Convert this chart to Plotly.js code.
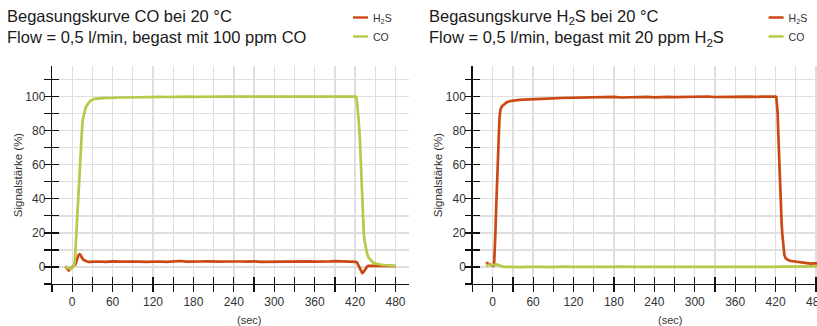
<!DOCTYPE html>
<html>
<head>
<meta charset="utf-8">
<script src="https://cdn.plot.ly/plotly-3.0.1.min.js"></script>
<style>
html,body{margin:0;padding:0;overflow:hidden;background:#fff;}
#chart{width:845px;height:326px;}
</style>
</head>
<body>
<div id="chart"></div>
<script>
// ---------- DATA ----------
// Left chart: gassed with 100 ppm CO
const leftCO_t = [-10,-7,-4,-2,0,2,3,4,5,6,7,8,9,10,11,12,13,14,15,16,18,20,22,24,26,28,30,33,36,40,45,50,55,60,
  70,80,90,100,110,120,130,140,150,160,170,180,190,200,210,220,230,240,250,260,270,280,290,300,310,320,330,340,350,360,370,380,390,400,410,420,
  421,422,423,424,425,426,427,428,429,430,431,432,433,434,436,438,440,443,446,450,455,460,465,470,475,480];
const leftCO_v = [0,-0.5,-1,-1.2,-0.5,0.4,1,4,12,17,22,32,42,50,58,66,74,80,84,87,91,93.5,95,96.3,97.2,97.8,98.3,98.7,98.9,99.1,99.2,99.3,99.2,99.4,
  99.5,99.5,99.6,99.9,99.7,99.8,99.9,99.8,100,99.9,100,99.9,100,100.1,99.9,100,100.1,100,99.9,100,100.1,100,100,99.9,100,100.1,100,100,99.9,100,100.1,100,100.1,100,100.2,100.1,
  100,99.5,97,92,87,82,76,66,54,42,32,25,19,15.5,11,7.5,5.5,3.8,2.8,2,1.5,1.2,1,0.9,0.8,0.7];

const leftH2S_t = [-10,-8,-6,-5,-3,-1,0,2,4,5,6,7,8,9,10,11,12,13,14,15,16,18,20,22,25,
  30,40,50,60,70,80,90,100,110,120,130,140,150,160,170,180,190,200,210,220,230,240,250,260,270,280,290,300,310,320,330,340,350,360,370,380,390,400,410,420,
  421,423,425,427,429,430.5,432,434,436,438,440,443,446,450,460,470,480];
const leftH2S_v = [0.4,-0.5,-1.8,-2,-1,-0.3,0,0.5,1.2,1.6,3,4.5,5.8,6.7,7.2,7.5,7.2,6.4,5.6,5,4.5,3.9,3.5,3.2,3,
  3.1,3.2,3.0,3.3,3.1,3.2,3.4,3.1,3.0,3.3,3.2,3.0,3.4,3.5,3.1,3.0,3.2,3.3,3.0,3.1,3.2,3.0,3.2,3.1,3.3,3.0,3.1,3.2,3.3,3.0,3.1,3.2,3.3,3.1,3.0,3.2,3.4,3.3,3.2,3.1,
  3.0,2.5,1,-1,-2.8,-3.5,-3.2,-2,-0.5,0.3,0.6,0.7,0.6,0.6,0.6,0.6,0.5];

// Right chart: gassed with 20 ppm H2S
const rightH2S_t = [-10,-8,-6,-4,-2,0,1,2,3,4,5,6,7,8,9,10,11,12,14,16,18,21,25,30,36,45,55,61,70,80,90,100,110,120,
  130,140,150,160,170,180,190,200,210,220,230,240,250,260,270,280,290,300,310,320,330,340,350,360,370,380,390,400,410,420,
  421,422,423,424,425,426,427,428,429,430,431,432,433,435,437,440,443,447,452,457,462,467,472,477,481,490];
const rightH2S_v = [1.8,2.3,1.8,1.4,1,0.8,0.6,1,8,20,33,45,58,69,79,87,91,93,94.5,95.3,96,96.8,97.3,97.7,98,98.2,98.3,98.4,98.6,98.8,99,99.2,99.3,99.5,
  99.6,99.4,99.7,99.5,99.6,99.9,99.5,99.6,99.8,99.7,99.9,99.6,99.8,99.9,99.7,99.8,100,99.8,99.9,100.1,99.8,99.9,100,99.9,100.1,100,99.9,100.1,100,100.1,
  99.8,96,90.6,78,65,51,41,32,25,19,13.5,9.2,7,5,4.3,3.8,3.5,3.3,3,2.7,2.3,1.9,2,2.1,2.2,2.2];

const rightCO_t = [-10,-8,-6,-3,0,3,6,9,12,16,20,30,40,50,60,70,80,90,100,110,120,130,140,150,160,170,180,190,200,210,220,230,240,250,260,270,280,290,300,310,320,330,340,350,360,370,380,390,400,410,420,430,440,450,460,470,480,490];
const rightCO_v = [0.5,1,1.4,1.3,1,1.1,1.5,1.3,0.7,0.1,0,0.1,-0.1,0,0.2,0,-0.1,0.1,0,0.2,0,-0.1,0.1,0,0.1,-0.1,0,0.2,0,-0.1,0,0.1,0,-0.1,0.1,0,0.1,0,-0.1,0.1,0,0.1,0,-0.1,0,0.1,0,0.1,0,-0.2,0.1,0.2,0.3,0.2,0.3,0.3,0.3,0.3];

const seriesNames = ['H<sub>2</sub>S', 'CO'];
const colH2S = '#CC4812';
const colCO = '#B8C848';

const titleLeft = 'Begasungskurve CO bei 20 °C<br>Flow = 0,5 l/min, begast mit 100 ppm CO';
const titleRight = 'Begasungskurve H<sub>2</sub>S bei 20 °C<br>Flow = 0,5 l/min, begast mit 20 ppm H<sub>2</sub>S';
const yTitle = 'Signalstärke (%)';
const xTitle = '(sec)';

// ---------- LAYOUT HELPERS ----------
const W = 845, H = 326;
const FONT = '"Liberation Sans", Arial, Helvetica, sans-serif';
const GRID = '#dedede';
const yDom = [(H-284)/H, (H-66)/H];
const xDomL = [52/W, 409/W];
const off = 420.5;
const xDomR = [(52+off)/W, (409+off)/W];

function trace(t, v, name, color, xa, ya, leg) {
  return {x: t, y: v, name: name, type: 'scatter', mode: 'lines',
    line: {color: color, width: 2.7}, xaxis: xa, yaxis: ya, legend: leg, hoverinfo: 'skip'};
}

const data = [
  trace(leftH2S_t, leftH2S_v, seriesNames[0], colH2S, 'x', 'y', 'legend'),
  trace(leftCO_t, leftCO_v, seriesNames[1], colCO, 'x', 'y', 'legend'),
  trace(rightH2S_t, rightH2S_v, seriesNames[0], colH2S, 'x2', 'y2', 'legend2'),
  trace(rightCO_t, rightCO_v, seriesNames[1], colCO, 'x2', 'y2', 'legend2'),
  {x: [], y: [], xaxis: 'x3', yaxis: 'y3', showlegend: false, type: 'scatter'},
  {x: [], y: [], xaxis: 'x4', yaxis: 'y4', showlegend: false, type: 'scatter'}
];

const tickFont = {family: FONT, size: 12, color: '#333'};

function xMain(dom, anchor) {
  return {domain: dom, anchor: anchor, range: [-30, 500], tick0: 0, dtick: 60,
    showgrid: true, gridcolor: GRID, gridwidth: 1.3, zeroline: false,
    showline: true, linecolor: '#111', linewidth: 1.2,
    ticks: 'inside', ticklen: 7, tickwidth: 1.2, tickcolor: '#111',
    ticklabelstandoff: 6, tickfont: tickFont, ticklabeloverflow: 'allow',
    minor: {dtick: 30, tick0: 0, showgrid: true, gridcolor: GRID, gridwidth: 1.3, ticks: 'inside', ticklen: 7, tickwidth: 1.2, tickcolor: '#111'},
    fixedrange: true};
}
function yMain(dom, anchor) {
  return {domain: dom, anchor: anchor, range: [-10, 118], tick0: 0, dtick: 20,
    showgrid: true, gridcolor: GRID, gridwidth: 1.3, zeroline: false,
    showline: true, linecolor: '#111', linewidth: 1.2,
    ticks: 'inside', ticklen: 7, tickwidth: 1.2, tickcolor: '#111',
    ticklabelstandoff: 3, tickfont: tickFont,
    minor: {dtick: 10, tick0: 0, showgrid: true, gridcolor: GRID, gridwidth: 1.3, ticks: 'inside', ticklen: 7, tickwidth: 1.2, tickcolor: '#111'},
    title: {text: yTitle, font: {family: FONT, size: 11.5, color: '#333'}, standoff: 0},
    fixedrange: true};
}
function xOver(base, anchor) {
  return {overlaying: base, anchor: anchor, range: [-30, 500], tick0: 0, dtick: 60,
    showgrid: false, zeroline: false, showline: false, showticklabels: false,
    ticks: 'outside', ticklen: 7, tickwidth: 1.2, tickcolor: '#111',
    minor: {dtick: 30, tick0: 0, showgrid: false, ticks: 'outside', ticklen: 7, tickwidth: 1.2, tickcolor: '#111'},
    fixedrange: true};
}
function yOver(base, anchor) {
  return {overlaying: base, anchor: anchor, range: [-10, 118], tick0: 0, dtick: 20,
    showgrid: false, zeroline: false, showline: false, showticklabels: false,
    ticks: 'outside', ticklen: 7, tickwidth: 1.2, tickcolor: '#111',
    minor: {dtick: 10, tick0: 0, showgrid: false, ticks: 'outside', ticklen: 7, tickwidth: 1.2, tickcolor: '#111'},
    fixedrange: true};
}

function legendAt(px) {
  return {x: px / W, xanchor: 'left', y: 1 - 3 / H, yanchor: 'top',
    bgcolor: 'rgba(0,0,0,0)', borderwidth: 0,
    font: {family: FONT, size: 10.5, color: '#333'}, itemclick: false, itemdoubleclick: false};
}

const titleFont = {family: FONT, size: 16.5, color: '#1a1a1a'};
const layout = {
  width: W, height: H,
  margin: {l: 0, r: 0, t: 0, b: 0},
  paper_bgcolor: '#fff', plot_bgcolor: '#fff',
  font: {family: FONT, color: '#333'},
  showlegend: true,
  xaxis: xMain(xDomL, 'y'),
  yaxis: yMain(yDom, 'x'),
  xaxis2: xMain(xDomR, 'y2'),
  yaxis2: yMain(yDom, 'x2'),
  xaxis3: xOver('x', 'y3'),
  yaxis3: yOver('y', 'x3'),
  xaxis4: xOver('x2', 'y4'),
  yaxis4: yOver('y2', 'x4'),
  legend: legendAt(333),
  legend2: legendAt(333 + 415.6),
  annotations: [
    {text: titleLeft, xref: 'paper', yref: 'paper', x: 5 / W, y: 1 - 5 / H, xanchor: 'left', yanchor: 'top',
      align: 'left', showarrow: false, font: titleFont},
    {text: titleRight, xref: 'paper', yref: 'paper', x: (5 + 422.4) / W, y: 1 - 5 / H, xanchor: 'left', yanchor: 'top',
      align: 'left', showarrow: false, font: titleFont},
    {text: xTitle, xref: 'paper', yref: 'paper', x: 249 / W, y: 1 - 320 / H, xanchor: 'center', yanchor: 'middle',
      showarrow: false, font: {family: FONT, size: 11, color: '#333'}},
    {text: xTitle, xref: 'paper', yref: 'paper', x: (249 + off) / W, y: 1 - 320 / H, xanchor: 'center', yanchor: 'middle',
      showarrow: false, font: {family: FONT, size: 11, color: '#333'}}
  ]
};

Plotly.newPlot('chart', data, layout, {staticPlot: true, displayModeBar: false}).then(function () {
  // shorten legend line symbols to match the reference's short dashes
  document.querySelectorAll('.legendlines path').forEach(function (p) {
    p.setAttribute('d', 'M20,0h15');
    p.style.strokeWidth = '2.4px';
  });
});
</script>
</body>
</html>
